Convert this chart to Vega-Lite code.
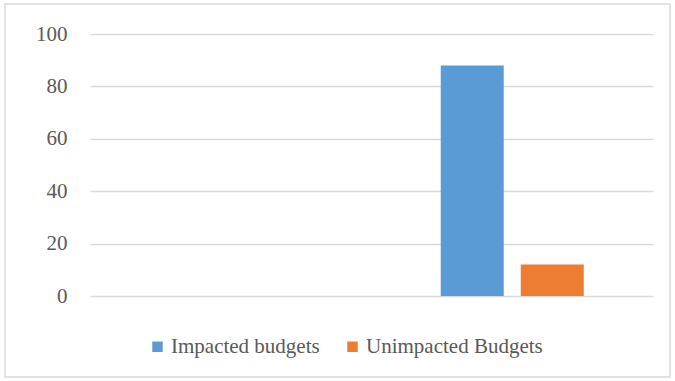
{
  "$schema": "https://vega.github.io/schema/vega-lite/v6.json",
  "width": 665,
  "height": 373,
  "autosize": {"type": "none"},
  "padding": {"left": 5, "top": 4, "right": 5, "bottom": 4},
  "background": "#FFFFFF",
  "config": {
    "view": {"stroke": "#D9D9D9", "strokeWidth": 1.5},
    "font": "Times New Roman, Liberation Serif, serif"
  },
  "data": {
    "values": [
      {"category": "2", "series": "Impacted budgets", "value": 88},
      {"category": "2", "series": "Unimpacted Budgets", "value": 12}
    ]
  },
  "mark": {"type": "bar"},
  "encoding": {
    "x": {
      "field": "category",
      "type": "nominal",
      "scale": {"domain": ["1", "2"], "range": [85, 648], "paddingInner": 0, "paddingOuter": 0},
      "axis": null
    },
    "xOffset": {
      "field": "series",
      "type": "nominal",
      "scale": {"domain": ["Impacted budgets", "Unimpacted Budgets"], "paddingInner": 0.2125, "paddingOuter": 0.8656}
    },
    "y": {
      "field": "value",
      "type": "quantitative",
      "scale": {"domain": [-30.9, 111.45], "nice": false, "zero": false},
      "axis": {
        "values": [0, 20, 40, 60, 80, 100],
        "title": null,
        "domain": false,
        "ticks": false,
        "offset": -62,
        "labelPadding": 0,
        "labelFont": "Times New Roman, Liberation Serif, serif",
        "labelFontSize": 21,
        "labelColor": "#595959",
        "gridColor": "#D9D9D9",
        "gridWidth": 1.5
      }
    },
    "color": {
      "field": "series",
      "type": "nominal",
      "scale": {"domain": ["Impacted budgets", "Unimpacted Budgets"], "range": ["#5B9BD5", "#ED7D31"]},
      "legend": {
        "title": null,
        "orient": "none",
        "direction": "horizontal",
        "legendX": 142,
        "legendY": 332,
        "symbolType": "square",
        "symbolSize": 110,
        "symbolStrokeWidth": 0,
        "symbolOpacity": 1,
        "labelFont": "Times New Roman, Liberation Serif, serif",
        "labelFontSize": 21,
        "labelColor": "#595959",
        "labelOffset": 3,
        "columnPadding": 22,
        "labelLimit": 400
      }
    }
  }
}
